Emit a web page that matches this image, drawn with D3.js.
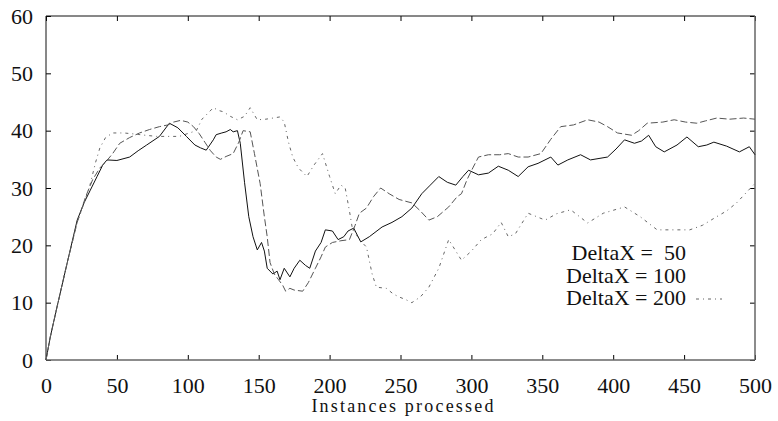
<!DOCTYPE html>
<html>
<head>
<meta charset="utf-8">
<script src="https://cdn.jsdelivr.net/npm/d3@7"></script>
<style>
  body { margin: 0; background: #fff; }
  svg { display: block; }
</style>
</head>
<body>
<svg id="chart" width="778" height="421"></svg>
<script>
// axis ticks
const xTicks = [0, 50, 100, 150, 200, 250, 300, 350, 400, 450, 500]
const yTicks = [0, 10, 20, 30, 40, 50, 60]
const xTitle = 'Instances processed'
const legendLabels = ['DeltaX =  50', 'DeltaX = 100', 'DeltaX = 200']

// [instances, value]
const delta50 = [[0,0],[3,4],[8,9.5],[15,17],[22,24.4],[27,27.5],[31,29.5],[36,32],[40,34],[43,34.9],[50,34.8],[59,35.4],[65,36.5],[71,37.5],[80,39],[87,41.3],[93,40.5],[99,39],[105,37.5],[109,37],[113,36.6],[118,38.4],[120,39.3],[124,39.6],[127,39.8],[130,40.2],[132,39.8],[135,40],[137,37.8],[140,31],[143,25],[146,21.5],[149,19.2],[152,20.5],[154,19],[156,16],[160,15],[163,15.5],[165,14],[168,16],[172,14.5],[175,16],[179,17.4],[183,16.5],[186,16],[190,19],[194,20.5],[197,22.7],[202,22.5],[206,21],[210,21.5],[213,22.5],[217,23],[222,20.6],[228,21.5],[237,23.2],[244,24],[251,25],[258,26.5],[265,29],[271,30.5],[277,32],[283,31],[289,30.5],[294,32],[298,33.1],[305,32.3],[312,32.6],[319,33.8],[326,33.1],[333,32],[340,33.7],[347,34.3],[356,35.4],[361,34],[368,34.9],[377,35.8],[384,34.9],[396,35.4],[402,36.8],[408,38.4],[415,37.8],[420,38.2],[425,39.2],[430,37.2],[436,36.3],[445,37.5],[452,38.9],[460,37.2],[466,37.5],[471,38],[480,37.3],[489,36.3],[496,37.2],[500,35.8]]

const delta100 = [[0,0],[3,4],[8,9.5],[15,17],[22,24],[28,28.5],[33,31.5],[38,33.5],[42,34.5],[47,36],[52,37.8],[59,38.8],[66,39.6],[73,40.2],[80,40.7],[86,41],[90,41.5],[95,41.8],[100,41.5],[104,40.7],[108,39.5],[112,38],[116,36.5],[120,35.4],[123,35],[127,35.5],[132,36],[136,38],[139,40],[144,39.8],[147,36],[151,30.8],[154,25],[156,21.5],[158,17],[161,15],[164,14],[167,13],[169,12],[172,12.5],[175,12.2],[181,12],[185,13.5],[190,16],[194,18],[197,19.7],[202,20.5],[208,20.8],[214,21],[218,23.5],[221,25.6],[226,26.5],[231,28.5],[236,30],[242,29],[249,28],[258,27.4],[264,26],[270,24.4],[276,25],[284,26.7],[290,28.5],[293,29],[297,31.5],[301,33.5],[305,35.4],[312,35.8],[320,35.8],[326,36],[333,35.4],[340,35.4],[349,36],[356,38.5],[363,40.7],[372,41],[382,41.9],[390,41.5],[396,40.7],[403,39.6],[413,39.2],[418,40],[424,41.3],[435,41.5],[443,41.9],[451,41.5],[459,41.3],[465,41.7],[473,42.2],[482,42],[492,42.2],[500,42]]

const delta200 = [[0,0],[3,4],[8,9.5],[15,17],[22,24],[27,27.5],[31,30.5],[35,34.5],[38,37],[42,38.8],[47,39.6],[55,39.6],[63,39.4],[70,39.2],[78,39],[87,39],[94,39],[100,39.5],[106,40],[110,42],[114,43],[118,44],[122,43.5],[125,43.3],[130,42.5],[135,41.9],[140,42.5],[144,44],[149,41.9],[155,42],[160,42.2],[165,42.4],[168,41.5],[171,38],[174,35.4],[178,33.5],[184,32],[189,34],[195,36],[200,32],[204,29],[208,30.5],[211,30],[214,26],[216,23],[221,21],[226,19.7],[230,15],[233,12.7],[240,12.5],[245,11.5],[249,11],[254,10.5],[258,10],[264,11],[270,12.7],[277,16],[284,21],[289,19],[293,17.4],[300,19],[307,21],[315,22],[321,24],[326,21.5],[331,22],[340,25.6],[346,25],[352,24.4],[360,25.5],[370,26.2],[382,23.9],[393,25.6],[408,26.7],[419,25],[431,22.7],[443,22.7],[454,22.7],[463,23.5],[473,25],[480,26],[487,27.4],[495,29.5],[500,30.8]]

const series = [
  { name: legendLabels[0], data: delta50, color: '#111', dash: null, width: 1 },
  { name: legendLabels[1], data: delta100, color: '#555', dash: '7,3', width: 1 },
  { name: legendLabels[2], data: delta200, color: '#666', dash: '3,4,1,4', width: 1 }
]

const svg = d3.select('svg#chart')
const plotLeft = 46, plotRight = 755, plotTop = 16, plotBottom = 360
const serif = '"Liberation Serif", "Times New Roman", Times, "DejaVu Serif", serif'

const x = d3.scaleLinear().domain([0, 500]).range([plotLeft, plotRight])
const y = d3.scaleLinear().domain([0, 60]).range([plotBottom, plotTop])

// axes, ticks pointing inward on all four sides
const fontSize = 22

svg.append('g')
  .attr('transform', `translate(0,${plotBottom})`)
  .call(d3.axisBottom(x).tickValues(xTicks).tickSizeInner(-5).tickSizeOuter(0).tickPadding(17))
  .call(g => g.select('.domain').remove())

svg.append('g')
  .attr('transform', `translate(${plotLeft},0)`)
  .call(d3.axisLeft(y).tickValues(yTicks).tickSizeInner(-5).tickSizeOuter(0).tickPadding(13))
  .call(g => g.select('.domain').remove())

svg.append('g')
  .attr('transform', `translate(0,${plotTop})`)
  .call(d3.axisTop(x).tickValues(xTicks).tickSizeInner(-5).tickSizeOuter(0).tickFormat(''))
  .call(g => g.select('.domain').remove())

svg.append('g')
  .attr('transform', `translate(${plotRight},0)`)
  .call(d3.axisRight(y).tickValues(yTicks).tickSizeInner(-5).tickSizeOuter(0).tickFormat(''))
  .call(g => g.select('.domain').remove())

svg.selectAll('.tick text')
  .attr('font-family', serif)
  .attr('font-size', fontSize)
  .attr('fill', '#111')

// frame
svg.append('line').attr('x1', plotLeft).attr('x2', plotRight).attr('y1', plotTop).attr('y2', plotTop).attr('stroke', '#111')
svg.append('line').attr('x1', plotLeft).attr('x2', plotLeft).attr('y1', plotTop).attr('y2', plotBottom).attr('stroke', '#111')
svg.append('line').attr('x1', plotLeft).attr('x2', plotRight).attr('y1', plotBottom).attr('y2', plotBottom).attr('stroke', '#666').attr('stroke-width', 1.5)
svg.append('line').attr('x1', plotRight).attr('x2', plotRight).attr('y1', plotTop).attr('y2', plotBottom).attr('stroke', '#666').attr('stroke-width', 1.5)

const line = d3.line()
  .x(d => x(d[0]))
  .y(d => y(d[1]))

svg.selectAll('path.series')
  .data(series)
  .enter()
  .append('path')
  .attr('class', 'series')
  .attr('d', d => line(d.data))
  .attr('fill', 'none')
  .attr('stroke', d => d.color)
  .attr('stroke-width', d => d.width)
  .attr('stroke-dasharray', d => d.dash)

// legend, only the last sample survived in the original
const legend = svg.append('g')

legend.selectAll('text')
  .data(series)
  .enter()
  .append('text')
  .attr('x', 686)
  .attr('y', (d, i) => 260 + i * 22.5)
  .attr('text-anchor', 'end')
  .attr('font-family', serif)
  .attr('font-size', fontSize)
  .attr('fill', '#111')
  .style('white-space', 'pre')
  .text(d => d.name)

legend.append('line')
  .attr('x1', 696).attr('x2', 722)
  .attr('y1', 299).attr('y2', 299)
  .attr('stroke', series[2].color)
  .attr('stroke-width', 1)
  .attr('stroke-dasharray', series[2].dash)

svg.append('text')
  .attr('x', (plotLeft + plotRight) / 2 + 3)
  .attr('y', 412)
  .attr('text-anchor', 'middle')
  .attr('font-family', serif)
  .attr('font-size', 18)
  .attr('fill', '#111')
  .style('letter-spacing', '2.2px')
  .text(xTitle)
</script>
</body>
</html>
